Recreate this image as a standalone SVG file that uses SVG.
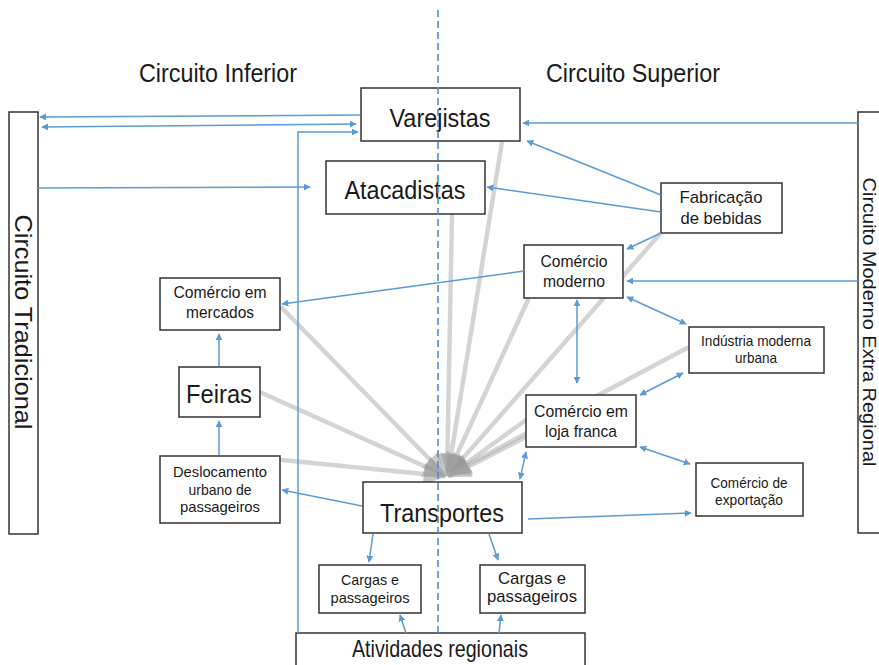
<svg xmlns="http://www.w3.org/2000/svg" width="879" height="665" viewBox="0 0 879 665">
<style>
.box{fill:#fff;stroke:#333;stroke-width:1.5}
.side{fill:#fff;stroke:#333;stroke-width:1.5}
.t{font-family:"Liberation Sans Narrow","Liberation Sans",Arial,sans-serif;fill:#1a1a1a;text-anchor:middle}
.s{font-family:"Liberation Sans",Arial,sans-serif;fill:#1a1a1a;text-anchor:middle}
.b{fill:none;stroke:#5b9bd5;stroke-width:1.5}
.g{fill:none;stroke:#b0b0b0;stroke-opacity:0.55;stroke-width:4.5;stroke-linecap:round}
.dash{fill:none;stroke:#4a8fd0;stroke-width:1.6;stroke-dasharray:7 4}
</style>
<defs>
<marker id="a" viewBox="0 0 10 10" refX="9" refY="5" markerWidth="7" markerHeight="7" markerUnits="userSpaceOnUse" orient="auto-start-reverse"><path d="M0,0 L10,5 L0,10 z" fill="#5b9bd5"/></marker>
<marker id="ga" viewBox="0 0 10 10" refX="9" refY="5" markerWidth="5" markerHeight="5" orient="auto"><path d="M0,0 L10,5 L0,10 z" fill="#999" fill-opacity="0.55"/></marker>
</defs>
<rect width="879" height="665" fill="#fff"/>

<g id="gray-connectors">
<line class="g" x1="502" y1="142" x2="448" y2="474" marker-end="url(#ga)"/>
<line class="g" x1="452" y1="215" x2="447" y2="474" marker-end="url(#ga)"/>
<line class="g" x1="660" y1="234" x2="449" y2="474" marker-end="url(#ga)"/>
<line class="g" x1="528" y1="300" x2="448" y2="474" marker-end="url(#ga)"/>
<line class="g" x1="687" y1="348" x2="450" y2="474" marker-end="url(#ga)"/>
<line class="g" x1="526" y1="420" x2="450" y2="475" marker-end="url(#ga)"/>
<line class="g" x1="526" y1="437" x2="450" y2="476" marker-end="url(#ga)"/>
<line class="g" x1="282" y1="308" x2="444" y2="474" marker-end="url(#ga)"/>
<line class="g" x1="262" y1="393" x2="444" y2="475" marker-end="url(#ga)"/>
<line class="g" x1="282" y1="460" x2="444" y2="476" marker-end="url(#ga)"/>
</g>

<text class="t" x="218" y="82" font-size="26" textLength="158" lengthAdjust="spacingAndGlyphs">Circuito Inferior</text>
<text class="t" x="633" y="82" font-size="26" textLength="174" lengthAdjust="spacingAndGlyphs">Circuito Superior</text>

<g id="circuito-tradicional">
<rect class="side" x="9" y="112" width="29" height="422"/>
<text class="s" transform="translate(23,322) rotate(90)" y="8" font-size="24" textLength="215" lengthAdjust="spacingAndGlyphs">Circuito Tradicional</text>
</g>
<g id="circuito-moderno">
<rect class="side" x="858" y="112" width="30" height="421"/>
<text class="s" transform="translate(870,322) rotate(90)" y="7" font-size="19" textLength="289" lengthAdjust="spacingAndGlyphs">Circuito Moderno Extra Regional</text>
</g>

<g id="varejistas">
<rect class="box" x="361" y="88" width="159" height="53"/>
<text class="t" x="440" y="127" font-size="26" textLength="101" lengthAdjust="spacingAndGlyphs">Varejistas</text>
</g>
<g id="atacadistas">
<rect class="box" x="326" y="161" width="159" height="53"/>
<text class="t" x="405" y="199" font-size="26" textLength="121" lengthAdjust="spacingAndGlyphs">Atacadistas</text>
</g>
<g id="fabricacao">
<rect class="box" x="661" y="183" width="121" height="50"/>
<text class="t" x="721" y="203" font-size="17" textLength="83" lengthAdjust="spacingAndGlyphs">Fabricação</text>
<text class="t" x="721" y="224" font-size="17" textLength="81" lengthAdjust="spacingAndGlyphs">de bebidas</text>
</g>
<g id="comercio-moderno">
<rect class="box" x="524" y="245" width="99" height="53"/>
<text class="t" x="574" y="267" font-size="16" textLength="67" lengthAdjust="spacingAndGlyphs">Comércio</text>
<text class="t" x="574" y="287" font-size="16" textLength="62" lengthAdjust="spacingAndGlyphs">moderno</text>
</g>
<g id="comercio-mercados">
<rect class="box" x="160" y="278" width="120" height="52"/>
<text class="t" x="220" y="298" font-size="16" textLength="93" lengthAdjust="spacingAndGlyphs">Comércio em</text>
<text class="t" x="220" y="318" font-size="16" textLength="68" lengthAdjust="spacingAndGlyphs">mercados</text>
</g>
<g id="feiras">
<rect class="box" x="179" y="367" width="81" height="50"/>
<text class="t" x="219" y="403" font-size="26" textLength="66" lengthAdjust="spacingAndGlyphs">Feiras</text>
</g>
<g id="deslocamento">
<rect class="box" x="160" y="456" width="120" height="67"/>
<text class="t" x="220" y="477" font-size="15" textLength="94" lengthAdjust="spacingAndGlyphs">Deslocamento</text>
<text class="t" x="220" y="495" font-size="15" textLength="63" lengthAdjust="spacingAndGlyphs">urbano de</text>
<text class="t" x="220" y="512" font-size="15" textLength="80" lengthAdjust="spacingAndGlyphs">passageiros</text>
</g>
<g id="industria">
<rect class="box" x="689" y="327" width="135" height="46"/>
<text class="t" x="756" y="346" font-size="15" textLength="110" lengthAdjust="spacingAndGlyphs">Indústria moderna</text>
<text class="t" x="756" y="363" font-size="15" textLength="42" lengthAdjust="spacingAndGlyphs">urbana</text>
</g>
<g id="loja-franca">
<rect class="box" x="526" y="395" width="110" height="52"/>
<text class="t" x="581" y="417" font-size="17" textLength="94" lengthAdjust="spacingAndGlyphs">Comércio em</text>
<text class="t" x="581" y="437" font-size="17" textLength="72" lengthAdjust="spacingAndGlyphs">loja franca</text>
</g>
<g id="exportacao">
<rect class="box" x="696" y="463" width="107" height="53"/>
<text class="t" x="749" y="488" font-size="15" textLength="77" lengthAdjust="spacingAndGlyphs">Comércio de</text>
<text class="t" x="749" y="505" font-size="15" textLength="68" lengthAdjust="spacingAndGlyphs">exportação</text>
</g>
<g id="transportes">
<rect class="box" x="363" y="482" width="159" height="51"/>
<text class="t" x="442" y="522" font-size="26" textLength="124" lengthAdjust="spacingAndGlyphs">Transportes</text>
</g>
<g id="cargas-1">
<rect class="box" x="319" y="565" width="102" height="48"/>
<text class="t" x="370" y="585" font-size="15" textLength="58" lengthAdjust="spacingAndGlyphs">Cargas e</text>
<text class="t" x="370" y="603" font-size="15" textLength="79" lengthAdjust="spacingAndGlyphs">passageiros</text>
</g>
<g id="cargas-2">
<rect class="box" x="480" y="565" width="105" height="48"/>
<text class="t" x="532" y="584" font-size="17" textLength="68" lengthAdjust="spacingAndGlyphs">Cargas e</text>
<text class="t" x="532" y="602" font-size="17" textLength="90" lengthAdjust="spacingAndGlyphs">passageiros</text>
</g>
<g id="atividades">
<rect class="box" x="296" y="633" width="289" height="40"/>
<text class="t" x="440" y="657" font-size="24" textLength="176" lengthAdjust="spacingAndGlyphs">Atividades regionais</text>
</g>

<line class="dash" x1="438" y1="10" x2="438" y2="633"/>

<g id="connectors">
<line class="b" x1="360" y1="115" x2="40" y2="117" marker-end="url(#a)"/>
<line class="b" x1="42" y1="127" x2="356" y2="124" marker-start="url(#a)" marker-end="url(#a)"/>
<polyline class="b" points="298,633 298,132 358,132" marker-end="url(#a)"/>
<line class="b" x1="38" y1="188" x2="310" y2="187" marker-end="url(#a)"/>
<line class="b" x1="858" y1="123" x2="523" y2="123" marker-end="url(#a)"/>
<line class="b" x1="661" y1="195" x2="527" y2="141" marker-end="url(#a)"/>
<line class="b" x1="661" y1="212" x2="487" y2="187" marker-end="url(#a)"/>
<line class="b" x1="661" y1="233" x2="627" y2="249" marker-end="url(#a)"/>
<line class="b" x1="858" y1="281" x2="627" y2="281" marker-end="url(#a)"/>
<line class="b" x1="524" y1="271" x2="282" y2="304" marker-end="url(#a)"/>
<line class="b" x1="219" y1="366" x2="219" y2="334" marker-end="url(#a)"/>
<line class="b" x1="219" y1="455" x2="219" y2="421" marker-end="url(#a)"/>
<line class="b" x1="362" y1="506" x2="282" y2="490" marker-end="url(#a)"/>
<line class="b" x1="528" y1="519" x2="691" y2="513" marker-end="url(#a)"/>
<line class="b" x1="627" y1="297" x2="686" y2="324" marker-start="url(#a)" marker-end="url(#a)"/>
<line class="b" x1="577" y1="300" x2="577" y2="383" marker-start="url(#a)" marker-end="url(#a)"/>
<line class="b" x1="683" y1="373" x2="640" y2="395" marker-start="url(#a)" marker-end="url(#a)"/>
<line class="b" x1="640" y1="447" x2="690" y2="464" marker-start="url(#a)" marker-end="url(#a)"/>
<line class="b" x1="520" y1="479" x2="526" y2="452" marker-start="url(#a)" marker-end="url(#a)"/>
<line class="b" x1="373" y1="534" x2="369" y2="562" marker-end="url(#a)"/>
<line class="b" x1="489" y1="534" x2="498" y2="560" marker-end="url(#a)"/>
<line class="b" x1="406" y1="633" x2="400" y2="615" marker-end="url(#a)"/>
<line class="b" x1="499" y1="633" x2="501" y2="615" marker-end="url(#a)"/>
</g>
</svg>
